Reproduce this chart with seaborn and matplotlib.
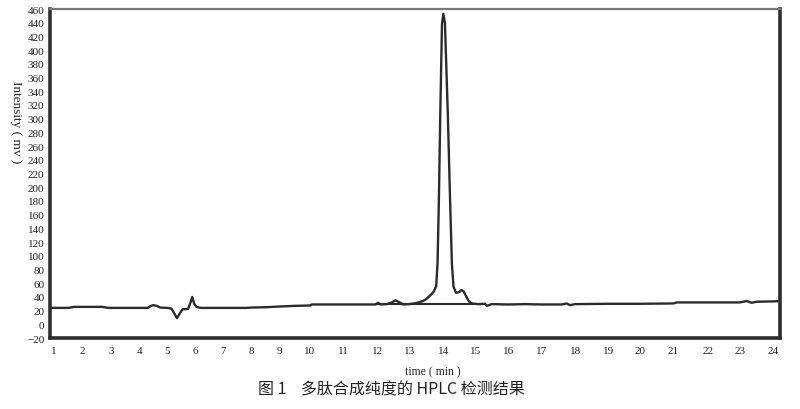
import numpy as np
import pandas as pd
import matplotlib
matplotlib.use("Agg")
import matplotlib.pyplot as plt
import seaborn as sns

# chromatogram trace
time_min = [0.9, 1.5, 1.7, 2.0, 2.7, 2.9, 3.5, 4.3, 4.42, 4.5,
            4.62, 4.75, 5.0, 5.15, 5.25, 5.35, 5.45, 5.55, 5.75, 5.82,
            5.9, 5.97, 6.05, 6.2, 7.0, 7.8, 8.0, 8.5, 9.0, 9.5,
            10.0, 10.05, 11.0, 11.95, 12.02, 12.1, 12.3, 12.45, 12.57, 12.7,
            12.8, 13.0, 13.2, 13.4, 13.5, 13.65, 13.72, 13.79, 13.83, 13.87,
            13.91, 13.96, 14.0, 14.05, 14.14, 14.21, 14.27, 14.32, 14.4, 14.5,
            14.57, 14.64, 14.72, 14.8, 14.9, 15.1, 15.3, 15.35, 15.5, 16.0,
            16.5, 17.0, 17.6, 17.75, 17.85, 18.0, 19.0, 20.0, 21.0, 21.1,
            22.0, 23.0, 23.2, 23.35, 23.5, 24.0, 24.2]
intensity = [24, 24, 25.5, 25.5, 25.5, 24, 24, 24, 27, 28,
             27, 24.5, 24, 23, 16, 9, 16, 22, 22.5, 30,
             40, 30, 25.5, 24, 24, 24, 24.5, 25, 26, 27,
             27.5, 29, 29, 29, 31.5, 29, 29.5, 32, 35, 32,
             29, 29.5, 31, 34, 37, 44, 48, 56, 90, 185,
             308, 438, 453, 440, 308, 185, 88, 55, 46, 47,
             50, 48, 41, 34, 30.5, 29.5, 30, 27, 29.5, 29,
             29.5, 29, 29, 30.5, 28, 29.5, 30, 30, 30.5, 32,
             32, 32, 34, 31.5, 33, 33.5, 34]

# integration baseline drawn under the main peak
base_time = [11.95, 15.3]
base_value = [29, 29]

x_ticks = list(range(1, 25))
y_ticks = list(range(-20, 461, 20))

df = pd.DataFrame({"time": time_min, "intensity": intensity})
df_base = pd.DataFrame({"time": base_time, "intensity": base_value})

sns.set_style("white")
plt.rcParams["font.family"] = ["Liberation Serif", "DejaVu Serif"]

# tick labels in the original are not evenly spaced; map minutes to where they sit
knot_t = [0] + x_ticks + [25]
knot_px = [25.3, 54, 82.7, 111, 139.3, 167.3, 195, 223.3, 251.7, 279.3, 310,
           343.3, 377.3, 409.3, 443.3, 475, 508.3, 541.7, 575, 608, 640,
           673.3, 708, 740, 773, 806]

def fwd(t):
    return np.interp(t, knot_t, knot_px)

def inv(p):
    return np.interp(p, knot_px, knot_t)

fig = plt.figure(figsize=(8, 4.1), dpi=100)
ax = fig.add_axes([0.0625, 0.173, 0.9125, 0.8026])
ax.set_xscale("function", functions=(fwd, inv))

sns.lineplot(data=df, x="time", y="intensity", ax=ax, color="#2b2b2b",
             linewidth=1.7, sort=False, estimator=None)
sns.lineplot(data=df_base, x="time", y="intensity", ax=ax, color="#2b2b2b",
             linewidth=1.5, sort=False, estimator=None)

ax.set_xlim(0.86, 24.21)
ax.set_ylim(-20, 460)
ax.set_xticks(x_ticks)
ax.set_xticklabels([str(v) for v in x_ticks])
ax.set_yticks(y_ticks)
ax.set_yticklabels(["\u221220" if v < 0 else str(v) for v in y_ticks])
ax.tick_params(axis="both", length=0, labelsize=8, colors="#222222")
ax.tick_params(axis="x", pad=6)
ax.tick_params(axis="y", pad=4)

for side in ["left", "bottom", "right"]:
    ax.spines[side].set_color("#2e2e2e")
    ax.spines[side].set_linewidth(2.6)
ax.spines["top"].set_color("#777777")
ax.spines["top"].set_linewidth(1.6)

ax.set_xlabel("time ( min )", fontsize=8.5)
ax.xaxis.set_label_coords(0.525, -0.082)
ax.set_ylabel("Intensity ( mv )", fontsize=9.5, rotation=270, va="center")
ax.yaxis.set_label_coords(-0.046, 0.66)

fig.text(0.489, 0.048, "图 1    多肽合成纯度的 HPLC 检测结果", ha="center", va="center",
         fontsize=11.5, family=["Noto Sans CJK SC", "DejaVu Sans"], color="#222222")

fig.savefig("out.png", dpi=100, facecolor="white")
